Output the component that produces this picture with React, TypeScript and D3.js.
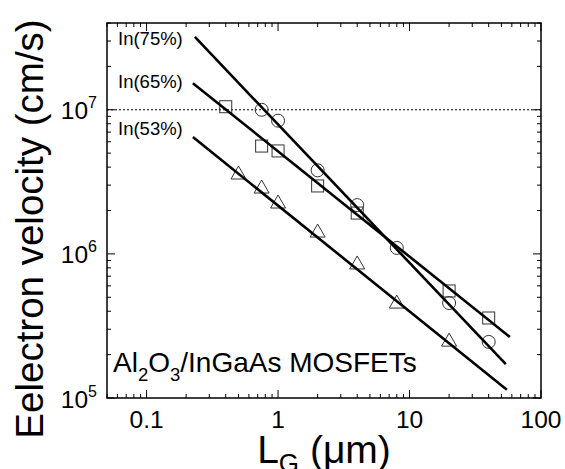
import React from "react";
import * as d3 from "d3";

const xCircle = [0.75, 1, 2, 4, 8, 20, 40];
const yCircle = [1.0e7, 8.4e6, 3.8e6, 2.18e6, 1.1e6, 4.56e5, 2.45e5];
const xSquare = [0.4, 0.75, 1, 2, 4, 20, 40];
const ySquare = [1.05e7, 5.6e6, 5.18e6, 2.96e6, 1.92e6, 5.53e5, 3.59e5];
const xTriangle = [0.5, 0.75, 1, 2, 4, 8, 20];
const yTriangle = [3.64e6, 2.91e6, 2.29e6, 1.44e6, 8.65e5, 4.63e5, 2.52e5];

const fitLabels = ["In(75%)", "In(65%)", "In(53%)"];
const fitX = [
  [0.233, 54],
  [0.225, 58],
  [0.225, 55],
];
const fitY = [
  [3.2e7, 1.72e5],
  [1.53e7, 2.65e5],
  [6.47e6, 1.14e5],
];

const xTickValues = [0.1, 1, 10, 100];
const xTickLabels = ["0.1", "1", "10", "100"];
const yTickValues = [1e5, 1e6, 1e7];
const yTickExp = ["5", "6", "7"];

const W = 565;
const H = 469;
const L = 107, R = 541, T = 23, B = 398;
const FONT = "'Liberation Sans', Arial, Helvetica, sans-serif";

export default function App() {
  const x = d3.scaleLog().domain([0.05, 100]).range([L, R]);
  const y = d3.scaleLog().domain([1e5, 4e7]).range([B, T]);

  const minorX: number[] = [];
  for (let d = 0.01; d < 100; d *= 10) {
    for (let k = 1; k < 10; k++) {
      const v = d * k;
      if (v >= 0.05 - 1e-9 && v <= 100 + 1e-9) minorX.push(v);
    }
  }
  minorX.push(100);
  const minorY: number[] = [];
  for (let d = 1e5; d < 1e8; d *= 10) {
    for (let k = 1; k < 10; k++) {
      const v = d * k;
      if (v >= 1e5 && v <= 4e7 + 1) minorY.push(v);
    }
  }
  const isMajor = (v: number) => Math.abs(Math.log10(v) - Math.round(Math.log10(v))) < 1e-6;

  const line = d3.line<[number, number]>().x((d) => x(d[0])).y((d) => y(d[1]));
  const markStroke = "#333";
  const labelY = [45, 88, 135];

  return (
    <svg width={W} height={H} style={{ position: "absolute", left: 0, top: 0, background: "#fff" }} fontFamily={FONT}>
      <rect x={0} y={0} width={W} height={H} fill="#fff" />
      {/* dotted line at 1e7 */}
      <line x1={L} x2={R} y1={y(1e7)} y2={y(1e7)} stroke="#000" strokeWidth={1} strokeDasharray="2,2" />
      {/* ticks */}
      {minorX.map((v, i) => {
        const len = isMajor(v) ? 8 : 4;
        const px = x(v);
        return (
          <g key={"tx" + i}>
            <line x1={px} x2={px} y1={B} y2={B - len} stroke="#000" strokeWidth={1} />
            <line x1={px} x2={px} y1={T} y2={T + len} stroke="#000" strokeWidth={1} />
          </g>
        );
      })}
      {minorY.map((v, i) => {
        const len = isMajor(v) ? 8 : 4;
        const py = y(v);
        return (
          <g key={"ty" + i}>
            <line x1={L} x2={L + len} y1={py} y2={py} stroke="#000" strokeWidth={1} />
            <line x1={R} x2={R - len} y1={py} y2={py} stroke="#000" strokeWidth={1} />
          </g>
        );
      })}
      {/* markers */}
      {xCircle.map((v, i) => (
        <circle key={"c" + i} cx={x(v)} cy={y(yCircle[i])} r={6.5} fill="none" stroke={markStroke} strokeWidth={1} />
      ))}
      {xSquare.map((v, i) => (
        <rect key={"s" + i} x={x(v) - 6} y={y(ySquare[i]) - 6} width={12} height={12} fill="none" stroke={markStroke} strokeWidth={1} />
      ))}
      {xTriangle.map((v, i) => {
        const cx = x(v), cy = y(yTriangle[i]);
        return (
          <path key={"t" + i} d={`M${cx},${cy - 7}L${cx + 7.5},${cy + 6}L${cx - 7.5},${cy + 6}Z`} fill="none" stroke={markStroke} strokeWidth={1} />
        );
      })}
      {/* fit lines */}
      {fitX.map((xs, i) => (
        <path key={"f" + i} d={line([[xs[0], fitY[i][0]], [xs[1], fitY[i][1]]]) || ""} stroke="#000" strokeWidth={2.6} fill="none" />
      ))}
      {fitLabels.map((t, i) => (
        <text key={"fl" + i} x={118} y={labelY[i]} fontSize={18.5} fill="#000">{t}</text>
      ))}
      {/* frame */}
      <rect x={L} y={T} width={R - L} height={B - T} fill="none" stroke="#000" strokeWidth={1.5} />
      {/* tick labels */}
      {xTickValues.map((v, i) => (
        <text key={"xl" + i} x={x(v)} y={428} fontSize={24.5} textAnchor="middle" fill="#000">{xTickLabels[i]}</text>
      ))}
      {yTickValues.map((v, i) => (
        <text key={"yl" + i} x={97} y={y(v) + 9.5} fontSize={24.5} textAnchor="end" fill="#000">
          10<tspan fontSize={16} dy={-11}>{yTickExp[i]}</tspan>
        </text>
      ))}
      {/* annotation */}
      <text x={113} y={372} fontSize={28} fill="#000">
        Al<tspan fontSize={18.5} dy={9}>2</tspan><tspan dy={-9}>O</tspan><tspan fontSize={18.5} dy={9}>3</tspan><tspan dy={-9}>/InGaAs MOSFETs</tspan>
      </text>
      {/* axis titles */}
      <text transform={`translate(43, 229) rotate(-90)`} fontSize={38.5} textAnchor="middle" fill="#000">Eelectron velocity (cm/s)</text>
      <text x={(L + R) / 2} y={463} fontSize={39} textAnchor="middle" fill="#000">
        L<tspan fontSize={26} dy={9}>G</tspan><tspan dy={-9}> (μm)</tspan>
      </text>
    </svg>
  );
}
